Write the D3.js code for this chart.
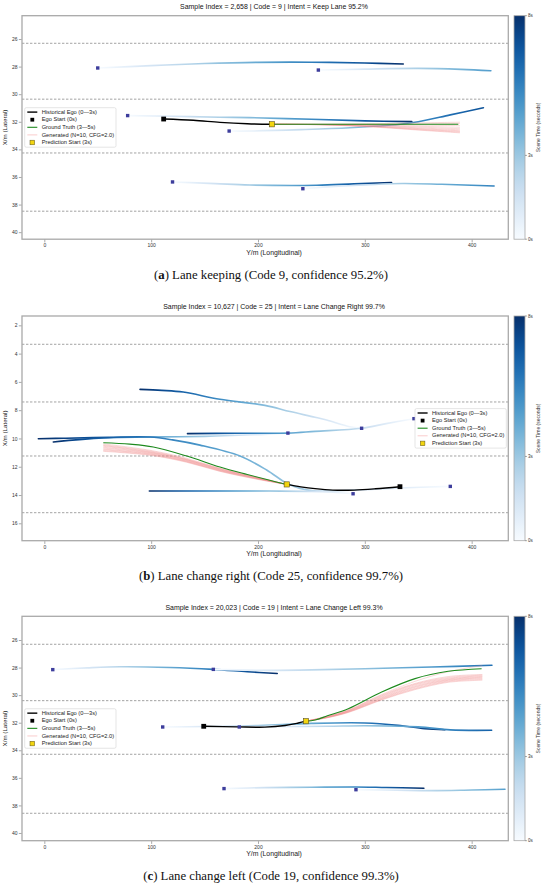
<!DOCTYPE html>
<html><head><meta charset="utf-8">
<script src="https://cdn.jsdelivr.net/npm/d3@7"></script>
<style>body{margin:0;background:#fff} svg{display:block}</style>
</head><body><svg id="fig" width="550" height="885"></svg>
<script>
// ================= DATA =================
const xTicks = [0, 100, 200, 300, 400];
const xDomain = [-20.9, 434.3];
const colorbarTicks = [0, 3, 8];
const colorbarTickLabels = ["0s", "3s", "8s"];
const colorbarMax = 8;
const legendLabels = ["Historical Ego (0—3s)", "Ego Start (0s)", "Ground Truth (3—5s)", "Generated (N=10, CFG=2.0)", "Prediction Start (3s)"];

// ---- panel (a) ----
const aTitle = "Sample Index = 2,658 | Code = 9 | Intent = Keep Lane 95.2%";
const aCaption = ["a", " Lane keeping (Code 9, confidence 95.2%)"];
const aYDomain = [24.31, 40.51];
const aYTicks = [26, 28, 30, 32, 34, 36, 38, 40];
const aLanes = [26.31, 30.36, 34.26, 38.48];
const aNeighborTracks = [
  [[50,28.1],[100,27.93],[150,27.78],[200,27.69],[250,27.68],[300,27.74],[336,27.81]],
  [[256.5,28.25],[300,28.18],[350,28.13],[390,28.2],[418,28.3]],
  [[78,31.55],[120,31.6],[164,31.67],[192,31.7],[250,31.82],[300,31.93],[344,31.99]],
  [[173,32.67],[192,32.67],[240,32.57],[286,32.43],[333,32.18],[350,32.0],[380,31.5],[411,30.98]],
  [[120,36.36],[160,36.48],[192,36.58],[255,36.6],[290,36.5],[325,36.41]],
  [[242,36.85],[265,36.72],[300,36.58],[335,36.47],[372,36.53],[421,36.65]]
];
const aNeighborEndTimes = [8, 4.6, 8, 7, 8, 5.5];
const aEgoHistory = [[111.7,31.8],[139.5,31.89],[164.4,32.04],[190,32.14],[213,32.18]];
const aGroundTruth = [[213,32.18],[300,32.18],[387.5,32.18]];
const aGenX = [213, 260, 310, 350, 389];
const aGenY = [
  [32.18,32.18,32.14,32.08,32.03],
  [32.18,32.18,32.17,32.15,32.12],
  [32.18,32.19,32.21,32.24,32.28],
  [32.18,32.19,32.24,32.32,32.4],
  [32.18,32.2,32.27,32.38,32.5],
  [32.18,32.2,32.3,32.44,32.58],
  [32.18,32.21,32.33,32.49,32.65],
  [32.18,32.21,32.35,32.53,32.7],
  [32.18,32.22,32.37,32.57,32.75],
  [32.18,32.22,32.39,32.6,32.8]
];

// ---- panel (b) ----
const bTitle = "Sample Index = 10,627 | Code = 25 | Intent = Lane Change Right 99.7%";
const bCaption = ["b", " Lane change right (Code 25, confidence 99.7%)"];
const bYDomain = [1.34, 17.23];
const bYTicks = [2, 4, 6, 8, 10, 12, 14, 16];
const bLanes = [3.34, 7.42, 11.24, 15.25];
const bNeighborTracks = [
  [[228,9.62],[196,9.74],[150,9.85],[100,9.9],[55,9.96],[8.4,10.25]],
  [[297,9.28],[286,9.17],[264.3,8.7],[253.4,8.5],[230,8.1],[206.5,7.66],[164.4,7.23],[130,6.72],[110,6.6],[89.6,6.53]],
  [[346,8.6],[320,8.95],[297,9.28],[253.4,9.5],[228,9.62],[180,9.63],[134,9.66]],
  [[380,13.39],[333,13.5],[290,13.65],[251.8,13.7],[239.3,13.53],[226.9,13.17],[208.1,12.23],[183.2,11.24],[145.7,10.47],[120,10.1],[99,9.9],[60,9.92],[20,9.98],[-5.6,10.02]],
  [[289,13.91],[270,13.8],[250,13.74],[211,13.72],[150,13.72],[98.3,13.72]]
];
const bNeighborEndTimes = [8, 8, 8, 8, 8];
const bEgoHistory = [[332.9,13.41],[310,13.56],[290,13.65],[270,13.65],[253.4,13.55],[240,13.42],[226.9,13.25]];
const bGroundTruth = [[226.9,13.25],[211,12.96],[190,12.55],[164.4,12.02],[133.3,11.24],[102,10.6],[80,10.4],[55.2,10.3]];
const bGenX = [226.9, 200, 164, 133, 100, 55.2];
const bGenY = [
  [13.25,12.75,12.1,11.4,10.85,10.38],
  [13.25,12.78,12.12,11.45,10.9,10.45],
  [13.25,12.8,12.15,11.48,10.95,10.5],
  [13.25,12.8,12.17,11.5,10.98,10.55],
  [13.25,12.82,12.2,11.53,11.02,10.62],
  [13.25,12.83,12.22,11.56,11.05,10.68],
  [13.25,12.85,12.25,11.6,11.1,10.75],
  [13.25,12.86,12.27,11.62,11.12,10.8],
  [13.25,12.88,12.3,11.65,11.17,10.86],
  [13.25,12.9,12.32,11.68,11.2,10.91]
];

// ---- panel (c) ----
const cTitle = "Sample Index = 20,023 | Code = 19 | Intent = Lane Change Left 99.3%";
const cCaption = ["c", " Lane change left (Code 19, confidence 99.3%)"];
const cYDomain = [24.28, 40.56];
const cYTicks = [26, 28, 30, 32, 34, 36, 38, 40];
const cLanes = [26.31, 30.4, 34.29, 38.57];
const cNeighborTracks = [
  [[7.9,28.15],[40,28.02],[70.9,27.94],[117.6,27.99],[158,28.13],[190,28.3],[218,28.43]],
  [[158.2,28.13],[206,28.2],[250,28.17],[300,28.08],[362.6,27.96],[419,27.83]],
  [[110.8,32.31],[150,32.28],[200,32.2],[250,32.05],[300,32.02],[331,32.19],[356,32.43],[375,32.51]],
  [[182.5,32.31],[220,32.28],[265,32.26],[300,32.22],[350,32.3],[380,32.52],[418.7,32.55]],
  [[168.2,36.78],[206.5,36.71],[250,36.68],[290.8,36.66],[320,36.7],[355.3,36.75]],
  [[291.7,36.86],[330,36.9],[362.6,36.93],[400,36.88],[431.2,36.83]]
];
const cNeighborEndTimes = [8, 6, 8, 6.5, 8, 4.5];
const cEgoHistory = [[149.2,32.26],[180,32.3],[206.5,32.32],[225.3,32.2],[237.7,32.02],[244.9,31.89]];
const cGroundTruth = [[244.9,31.89],[253.4,31.8],[265,31.5],[284.5,30.98],[315.8,29.77],[347,28.8],[378.1,28.27],[409.3,28.08]];
const cGenX = [244.9, 265, 284.5, 315.8, 347, 378.1, 410];
const cGenY = [
  [31.89,31.52,31.05,29.95,29.0,28.3,27.85],
  [31.89,31.55,31.1,30.0,29.15,28.65,28.5],
  [31.89,31.56,31.12,30.05,29.2,28.72,28.55],
  [31.89,31.57,31.14,30.1,29.25,28.78,28.6],
  [31.89,31.58,31.16,30.15,29.32,28.83,28.65],
  [31.89,31.6,31.18,30.2,29.38,28.88,28.7],
  [31.89,31.61,31.2,30.24,29.43,28.92,28.75],
  [31.89,31.62,31.22,30.28,29.5,28.97,28.8],
  [31.89,31.63,31.24,30.32,29.55,29.02,28.86],
  [31.89,31.64,31.26,30.35,29.6,29.07,28.92]
];

// ================= LAYOUT / DRAW =================
const SANS = "Liberation Sans, Arial, sans-serif";
const SERIF = "Liberation Serif, Times New Roman, serif";
const svg = d3.select("#fig");
svg.append("rect").attr("width",550).attr("height",885).attr("fill","#fff");
const defs = svg.append("defs");
const AX_L = 22, AX_R = 508.3, CB_X = 514, CB_W = 11, CENTER_X = 274;

function fit(sel, target){
  const fs = parseFloat(sel.attr("font-size"));
  const w = sel.node().getComputedTextLength();
  if (w > 0) sel.attr("font-size", (fs*target/w).toFixed(2));
}

// colorbar gradient
const cbg = defs.append("linearGradient").attr("id","cbgrad").attr("x1",0).attr("y1",1).attr("x2",0).attr("y2",0);
d3.range(0,1.0001,0.05).forEach(o=>cbg.append("stop").attr("offset",o).attr("stop-color",d3.interpolateBlues(o)));

const panels = [
  {id:"a", top:15.7, bottom:239.2, yDomain:aYDomain, yTicks:aYTicks, lanes:aLanes, tracks:aNeighborTracks, tEnd:aNeighborEndTimes,
   ego:aEgoHistory, gt:aGroundTruth, genX:aGenX, genY:aGenY, title:aTitle, caption:aCaption, legend:"left"},
  {id:"b", top:316, bottom:540.7, yDomain:bYDomain, yTicks:bYTicks, lanes:bLanes, tracks:bNeighborTracks, tEnd:bNeighborEndTimes,
   ego:bEgoHistory, gt:bGroundTruth, genX:bGenX, genY:bGenY, title:bTitle, caption:bCaption, legend:"right"},
  {id:"c", top:616.3, bottom:840.7, yDomain:cYDomain, yTicks:cYTicks, lanes:cLanes, tracks:cNeighborTracks, tEnd:cNeighborEndTimes,
   ego:cEgoHistory, gt:cGroundTruth, genX:cGenX, genY:cGenY, title:cTitle, caption:cCaption, legend:"left"}
];

const x = d3.scaleLinear().domain(xDomain).range([AX_L, AX_R]);

panels.forEach(p=>{
  const g = svg.append("g");
  const y = d3.scaleLinear().domain(p.yDomain).range([p.top, p.bottom]);
  const cid = "clip"+p.id;
  defs.append("clipPath").attr("id",cid).append("rect")
    .attr("x",AX_L).attr("y",p.top).attr("width",AX_R-AX_L).attr("height",p.bottom-p.top);
  const plot = g.append("g").attr("clip-path",`url(#${cid})`);

  // lane lines
  plot.selectAll("line.lane").data(p.lanes).join("line").attr("class","lane")
    .attr("x1",AX_L).attr("x2",AX_R).attr("y1",d=>y(d)).attr("y2",d=>y(d))
    .attr("stroke","#8c8c8c").attr("stroke-width",0.8).attr("stroke-dasharray","2.4,1.6");

  const line = d3.line().x(d=>x(d[0])).y(d=>y(d[1])).curve(d3.curveCatmullRom.alpha(0.5));

  // neighbor tracks with time gradient
  p.tracks.forEach((tr,i)=>{
    const gid = `grad${p.id}${i}`;
    const gr = defs.append("linearGradient").attr("id",gid).attr("gradientUnits","userSpaceOnUse")
      .attr("x1",x(tr[0][0])).attr("x2",x(tr[tr.length-1][0])).attr("y1",0).attr("y2",0);
    d3.range(0,1.0001,0.1).forEach(o=>gr.append("stop").attr("offset",o)
      .attr("stop-color",d3.interpolateBlues(p.tEnd[i]*o/colorbarMax)));
    plot.append("path").attr("d",line(tr)).attr("fill","none").attr("stroke",`url(#${gid})`)
      .attr("stroke-width",1.6).attr("stroke-linecap","round");
  });

  // generated samples
  p.genY.forEach(ys=>{
    plot.append("path").attr("d",line(p.genX.map((xv,k)=>[xv,ys[k]]))).attr("fill","none")
      .attr("stroke","#f08080").attr("stroke-opacity",0.38).attr("stroke-width",0.8);
  });
  // ground truth
  plot.append("path").attr("d",line(p.gt)).attr("fill","none").attr("stroke","#1e8a1e").attr("stroke-width",1.1);
  // ego history
  plot.append("path").attr("d",line(p.ego)).attr("fill","none").attr("stroke","#000").attr("stroke-width",1.4);

  // neighbor start squares
  const sq=3.4;
  plot.selectAll("rect.nb").data(p.tracks).join("rect").attr("class","nb")
    .attr("x",d=>x(d[0][0])-sq/2).attr("y",d=>y(d[0][1])-sq/2).attr("width",sq).attr("height",sq)
    .attr("fill","#3d3d9c");
  // ego start
  const es=p.ego[0], s1=4.8;
  plot.append("rect").attr("x",x(es[0])-s1/2).attr("y",y(es[1])-s1/2).attr("width",s1).attr("height",s1).attr("fill","#000");
  const ps=p.ego[p.ego.length-1], s2=5.2;
  plot.append("rect").attr("x",x(ps[0])-s2/2).attr("y",y(ps[1])-s2/2).attr("width",s2).attr("height",s2)
    .attr("fill","#f2d50f").attr("stroke","#5a5020").attr("stroke-width",0.6);

  // frame
  g.append("rect").attr("x",AX_L).attr("y",p.top).attr("width",AX_R-AX_L).attr("height",p.bottom-p.top)
    .attr("fill","none").attr("stroke","#a9a9a9").attr("stroke-width",1.3);

  // axes
  const xa = g.append("g").attr("transform",`translate(0,${p.bottom+0.6})`)
    .call(d3.axisBottom(x).tickValues(xTicks).tickSize(2.6).tickPadding(1.2));
  xa.attr("font-size",5).attr("font-family",SANS);
  xa.select(".domain").remove();
  xa.selectAll("line").attr("stroke","#555").attr("stroke-width",0.5);
  xa.selectAll("text").attr("fill","#333");
  const ya = g.append("g").attr("transform",`translate(${AX_L-0.6},0)`)
    .call(d3.axisLeft(y).tickValues(p.yTicks).tickSize(2.6).tickPadding(1.2));
  ya.attr("font-size",5).attr("font-family",SANS);
  ya.select(".domain").remove();
  ya.selectAll("line").attr("stroke","#555").attr("stroke-width",0.5);
  ya.selectAll("text").attr("fill","#333");

  // labels
  const xl = g.append("text").attr("x",CENTER_X).attr("y",p.bottom+15.6).attr("text-anchor","middle")
    .attr("font-family",SANS).attr("font-size",6).attr("fill","#222").text("Y/m (Longitudinal)");
  fit(xl,55.7);
  const yc=(p.top+p.bottom)/2;
  g.append("text").attr("transform",`translate(7.4,${yc}) rotate(-90)`).attr("text-anchor","middle")
    .attr("font-family",SANS).attr("font-size",6.2).attr("fill","#222").text("X/m (Lateral)");
  const tt = g.append("text").attr("class","t"+p.id).attr("x",CENTER_X).attr("y",p.top-6.7).attr("text-anchor","middle")
    .attr("font-family",SANS).attr("font-size",6.5).attr("fill","#111").text(p.title);
  if (p.id==="a") fit(tt,188);

  // colorbar
  g.append("rect").attr("x",CB_X).attr("y",p.top).attr("width",CB_W).attr("height",p.bottom-p.top)
    .attr("fill","url(#cbgrad)").attr("stroke","#a9a9a9").attr("stroke-width",0.8);
  const cy = d3.scaleLinear().domain([0,colorbarMax]).range([p.bottom,p.top]);
  colorbarTicks.forEach((t,k)=>{
    g.append("line").attr("x1",CB_X+CB_W).attr("x2",CB_X+CB_W+2).attr("y1",cy(t)).attr("y2",cy(t))
      .attr("stroke","#555").attr("stroke-width",0.5);
    g.append("text").attr("x",CB_X+CB_W+3).attr("y",cy(t)+1.6).attr("font-family",SANS).attr("font-size",4.5)
      .attr("fill","#333").text(colorbarTickLabels[k]);
  });
  g.append("text").attr("transform",`translate(540.2,${yc}) rotate(-90)`).attr("text-anchor","middle")
    .attr("font-family",SANS).attr("font-size",5).attr("fill","#333").text("Scene Time (seconds)");

  // legend
  const LW=91.3, LH=39.5;
  const lx = p.legend==="left" ? AX_L+2.7 : AX_R-2-LW;
  const ly = yc - LH/2;
  const lg = g.append("g").attr("transform",`translate(${lx},${ly})`);
  lg.append("rect").attr("width",LW).attr("height",LH).attr("rx",1.5).attr("fill","#fff").attr("fill-opacity",0.9)
    .attr("stroke","#d4d4d4").attr("stroke-width",0.6);
  legendLabels.forEach((lab,k)=>{
    const ry = 4.4 + k*7.6;
    if (k===0||k===2||k===3){
      lg.append("line").attr("x1",2.6).attr("x2",12.6).attr("y1",ry).attr("y2",ry)
        .attr("stroke", k===0?"#000":k===2?"#1e8a1e":"#f08080")
        .attr("stroke-width", k===0?1.4:k===2?1.1:0.9).attr("stroke-opacity",k===3?0.45:1);
    } else if (k===1){
      lg.append("rect").attr("x",7.6-1.9).attr("y",ry-1.9).attr("width",3.8).attr("height",3.8).attr("fill","#000");
    } else {
      lg.append("rect").attr("x",7.6-2.3).attr("y",ry-2.3).attr("width",4.6).attr("height",4.6)
        .attr("fill","#f2d50f").attr("stroke","#5a5020").attr("stroke-width",0.5);
    }
    const t = lg.append("text").attr("class","lt").attr("x",17).attr("y",ry+1.7).attr("font-family",SANS)
      .attr("font-size",5.2).attr("fill","#222").text(lab);
    if (k===3) fit(t,72.3);
  });
  const lfs = lg.selectAll("text.lt").filter((d,k)=>k===3).attr("font-size");
  lg.selectAll("text.lt").attr("font-size",lfs);

  // caption
  const cap = g.append("text").attr("class","cap"+p.id).attr("x",271).attr("y",p.bottom+39.6).attr("text-anchor","middle")
    .attr("font-family",SERIF).attr("font-size",12.5).attr("fill","#111");
  cap.append("tspan").text("(");
  cap.append("tspan").attr("font-weight","bold").text(p.caption[0]);
  cap.append("tspan").text(")"+p.caption[1]);
  if (p.id==="a") fit(cap,234);
});
// same title & caption sizes for all panels
const tfs = svg.select("text.ta").attr("font-size");
svg.selectAll("text.tb, text.tc").attr("font-size",tfs);
const cfs = svg.select("text.capa").attr("font-size");
svg.selectAll("text.capb, text.capc").attr("font-size",cfs);
</script></body></html>
